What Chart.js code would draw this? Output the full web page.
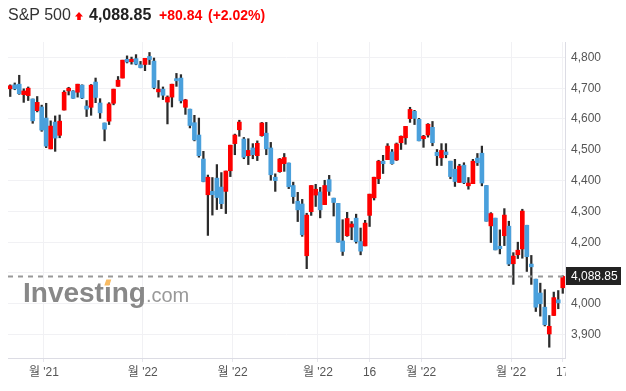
<!DOCTYPE html>
<html>
<head>
<meta charset="utf-8">
<script src="https://cdn.jsdelivr.net/npm/chart.js@4.4.0/dist/chart.umd.min.js"></script>
<style>
  html, body { margin: 0; padding: 0; background: #fff; }
  #wrap { position: relative; width: 626px; height: 391px; overflow: hidden; font-family: Arial, "Liberation Sans", "Noto Sans CJK KR", sans-serif; }
  #chart { position: absolute; left: 0; top: 0; }
  #head span { position: absolute; top: 4.5px; line-height: 20px; white-space: nowrap; }
  #name { left: 8px; font-size: 16px; color: #333; }
  #price { left: 89px; font-size: 16px; font-weight: bold; color: #222; }
  #chg { left: 159px; font-size: 14px; font-weight: bold; color: #f00; }
  #pct { left: 208px; font-size: 14px; font-weight: bold; color: #f00; }
  #arrow { position: absolute; left: 75px; top: 12px; }
</style>
</head>
<body>
<div id="wrap">
  <canvas id="chart" width="626" height="391"></canvas>
  <div id="head">
    <span id="name"></span>
    <svg id="arrow" width="8" height="8" viewBox="0 0 8 8"><polygon points="4,0 8,4.4 5.8,4.4 5.8,8 2.2,8 2.2,4.4 0,4.4" fill="#f00"/></svg>
    <span id="price"></span>
    <span id="chg"></span>
    <span id="pct"></span>
  </div>
</div>
<script>
// --- header ---
const instrument = 'S&P 500';
const lastChange = '+80.84';
const lastChangePct = '(+2.02%)';

// --- trading days ---
const dates = [
  '2021-11-18','2021-11-19','2021-11-22','2021-11-23','2021-11-24','2021-11-26','2021-11-29','2021-11-30',
  '2021-12-01','2021-12-02','2021-12-03','2021-12-06','2021-12-07','2021-12-08','2021-12-09','2021-12-10',
  '2021-12-13','2021-12-14','2021-12-15','2021-12-16','2021-12-17','2021-12-20','2021-12-21','2021-12-22',
  '2021-12-23','2021-12-27','2021-12-28','2021-12-29','2021-12-30','2021-12-31',
  '2022-01-03','2022-01-04','2022-01-05','2022-01-06','2022-01-07','2022-01-10','2022-01-11','2022-01-12',
  '2022-01-13','2022-01-14','2022-01-18','2022-01-19','2022-01-20','2022-01-21','2022-01-24','2022-01-25',
  '2022-01-26','2022-01-27','2022-01-28','2022-01-31',
  '2022-02-01','2022-02-02','2022-02-03','2022-02-04','2022-02-07','2022-02-08','2022-02-09','2022-02-10',
  '2022-02-11','2022-02-14','2022-02-15','2022-02-16','2022-02-17','2022-02-18','2022-02-22','2022-02-23',
  '2022-02-24','2022-02-25','2022-02-28',
  '2022-03-01','2022-03-02','2022-03-03','2022-03-04','2022-03-07','2022-03-08','2022-03-09','2022-03-10',
  '2022-03-11','2022-03-14','2022-03-15','2022-03-16','2022-03-17','2022-03-18','2022-03-21','2022-03-22',
  '2022-03-23','2022-03-24','2022-03-25','2022-03-28','2022-03-29','2022-03-30','2022-03-31',
  '2022-04-01','2022-04-04','2022-04-05','2022-04-06','2022-04-07','2022-04-08','2022-04-11','2022-04-12',
  '2022-04-13','2022-04-14','2022-04-18','2022-04-19','2022-04-20','2022-04-21','2022-04-22','2022-04-25',
  '2022-04-26','2022-04-27','2022-04-28','2022-04-29',
  '2022-05-02','2022-05-03','2022-05-04','2022-05-05','2022-05-06','2022-05-09','2022-05-10','2022-05-11',
  '2022-05-12','2022-05-13','2022-05-16','2022-05-17'
];

// --- OHLC ---
const open = [
  4698,4711,4713,4679,4676,4665,4627,4639,
  4603,4503,4590,4547,4629,4691,4691,4687,
  4710,4642,4638,4720,4652,4587,4593,4651,
  4706,4733,4794,4786,4796,4776,
  4777,4803,4788,4688,4697,4655,4671,4731,
  4733,4638,4632,4588,4548,4470,4354,4365,
  4408,4379,4365,4432,
  4520,4565,4535,4481,4506,4481,4546,4554,
  4506,4411,4429,4455,4457,4384,4333,4324,
  4156,4299,4353,
  4363,4322,4403,4343,4326,4204,4221,4249,
  4278,4202,4188,4287,4344,4406,4463,4468,
  4493,4467,4523,4539,4601,4625,4599,
  4536,4548,4573,4492,4474,4493,4463,4437,
  4394,4450,4383,4390,4473,4489,4384,4253,
  4278,4187,4221,4252,
  4130,4159,4178,4255,4129,4080,4035,3989,
  3902,3962,4013,4052
];
const high = [
  4711,4717,4742,4698,4704,4665,4673,4645,
  4651,4594,4610,4613,4692,4703,4692,4713,
  4711,4660,4712,4733,4666,4587,4653,4697,
  4738,4791,4805,4801,4809,4787,
  4797,4816,4798,4725,4704,4675,4713,4748,
  4744,4664,4632,4612,4603,4495,4418,4410,
  4452,4426,4431,4515,
  4551,4596,4540,4536,4520,4529,4589,4589,
  4524,4422,4472,4488,4457,4395,4362,4339,
  4294,4384,4388,
  4378,4401,4417,4343,4326,4273,4297,4267,
  4291,4246,4271,4356,4411,4466,4482,4520,
  4501,4522,4545,4576,4638,4628,4602,
  4547,4585,4592,4501,4520,4520,4463,4469,
  4453,4458,4410,4469,4488,4512,4384,4296,
  4278,4240,4309,4268,
  4166,4200,4307,4255,4157,4080,4067,4046,
  3962,4038,4043,4091
];
const low = [
  4673,4695,4680,4654,4660,4586,4623,4560,
  4507,4503,4495,4539,4629,4678,4667,4671,
  4666,4608,4612,4653,4602,4529,4582,4646,
  4706,4733,4782,4778,4776,4766,
  4757,4777,4698,4671,4663,4584,4639,4706,
  4652,4615,4571,4529,4476,4396,4222,4288,
  4306,4309,4293,4413,
  4484,4544,4471,4452,4471,4465,4544,4484,
  4401,4365,4427,4430,4374,4326,4267,4219,
  4114,4287,4316,
  4279,4322,4352,4285,4200,4157,4219,4208,
  4197,4159,4188,4251,4337,4390,4423,4468,
  4453,4465,4501,4518,4589,4582,4529,
  4508,4541,4513,4449,4449,4474,4406,4381,
  4394,4390,4372,4390,4449,4383,4268,4199,
  4175,4162,4189,4124,
  4063,4147,4148,4105,4063,3975,3960,3928,
  3859,3962,3984,4034
];
const close = [
  4708,4698,4682,4691,4700,4594,4654,4564,
  4512,4577,4538,4593,4687,4700,4667,4713,
  4668,4632,4710,4670,4620,4567,4649,4697,
  4726,4791,4785,4794,4778,4767,
  4797,4793,4702,4697,4677,4671,4713,4724,
  4659,4662,4579,4532,4481,4397,4411,4354,
  4345,4325,4431,4515,
  4548,4590,4476,4498,4484,4521,4587,4503,
  4419,4400,4470,4475,4380,4348,4305,4224,
  4288,4384,4372,
  4305,4384,4365,4329,4200,4170,4277,4259,
  4202,4171,4262,4356,4411,4463,4455,4512,
  4455,4519,4544,4576,4631,4602,4529,
  4544,4583,4523,4481,4498,4484,4413,4397,
  4447,4393,4392,4463,4458,4392,4268,4293,
  4175,4179,4288,4129,
  4155,4174,4301,4153,4120,3989,4000,3932,
  3927,4020,4003,4088.85
];

// --- axes ---
const yTicks = [3900, 4000, 4100, 4200, 4300, 4400, 4500, 4600, 4700, 4800];
const xTickDates = ['2021-12-01','2022-01-03','2022-02-01','2022-03-01','2022-03-16','2022-04-01','2022-05-02','2022-05-17'];
const xTickLabels = ["월 '21", "월 '22", "월 '22", "월 '22", '16', "월 '22", "월 '22", '17'];

const UP = '#fe0000';
const DOWN = '#4aa0dc';
const FONT = 'Arial, "Liberation Sans", "Noto Sans CJK KR", sans-serif';
const last = close.length - 1;

document.getElementById('name').textContent = instrument;
document.getElementById('price').textContent = close[last].toLocaleString('en-US', { minimumFractionDigits: 2 });
document.getElementById('chg').textContent = lastChange;
document.getElementById('pct').textContent = lastChangePct;

// watermark, dashed last-price line, price box
const overlay = {
    id: 'overlay',
    beforeDatasetsDraw(chart) {
        const c = chart.ctx;
        c.save();
        c.textBaseline = 'alphabetic';
        c.font = 'bold 28px ' + FONT;
        c.fillStyle = '#888';
        const x0 = 23, base = 302;
        c.fillText('Investing', x0, base);
        const wInv = c.measureText('Invest').width;
        const wAll = c.measureText('Investing').width;
        const iw = c.measureText('i').width;
        // orange dot on the i
        const dx = x0 + wInv + iw / 2;
        c.fillStyle = '#f8bb63';
        c.beginPath();
        c.moveTo(dx - 3.5, base - 16.5);
        c.lineTo(dx - 1.5, base - 22.5);
        c.lineTo(dx + 3.5, base - 22.5);
        c.lineTo(dx + 1.5, base - 16.5);
        c.closePath();
        c.fill();
        c.font = '20px ' + FONT;
        c.fillStyle = '#999';
        c.fillText('.com', x0 + wAll, base);
        c.restore();
    },
    afterDatasetsDraw(chart) {
        const c = chart.ctx, a = chart.chartArea;
        const y = chart.scales.y.getPixelForValue(close[last]);
        c.save();
        c.strokeStyle = '#999';
        c.lineWidth = 2;
        c.setLineDash([5, 5]);
        c.beginPath();
        c.moveTo(a.left, y);
        c.lineTo(a.right, y);
        c.stroke();
        c.restore();
    },
    afterDraw(chart) {
        const c = chart.ctx, a = chart.chartArea;
        const y = chart.scales.y.getPixelForValue(close[last]);
        c.save();
        // clip x labels past the price axis
        c.fillStyle = '#fff';
        c.fillRect(a.right + 0.5, a.bottom + 1, 70, 40);
        c.fillStyle = '#222';
        c.fillRect(a.right + 1, Math.round(y) - 9, 55, 18);
        c.fillStyle = '#fff';
        c.font = '12px ' + FONT;
        c.textBaseline = 'middle';
        c.fillText(close[last].toLocaleString('en-US', { minimumFractionDigits: 2 }), a.right + 6, Math.round(y) + 0.5);
        c.restore();
    }
};

new Chart(document.getElementById('chart'), {
    type: 'bar',
    data: {
        datasets: [
            {
                label: 'wick',
                data: dates.map((d, i) => ({ x: i, y: [low[i], high[i]] })),
                backgroundColor: '#2b2b2b',
                barThickness: 1.6,
                grouped: false,
                order: 2
            },
            {
                label: 'body',
                data: dates.map((d, i) => ({ x: i, y: [open[i], close[i]] })),
                backgroundColor: ctx => close[ctx.dataIndex] >= open[ctx.dataIndex] ? UP : DOWN,
                barThickness: 4,
                grouped: false,
                order: 1
            }
        ]
    },
    options: {
        responsive: false,
        animation: false,
        devicePixelRatio: 1,
        layout: { padding: { top: 42, left: 8, right: 0, bottom: 0 } },
        plugins: { legend: { display: false }, tooltip: { enabled: false } },
        scales: {
            x: {
                type: 'linear',
                offset: false,
                min: -0.5,
                max: dates.length - 0.5,
                afterBuildTicks: axis => {
                    axis.ticks = xTickDates.map((d, k) => ({
                        value: dates.indexOf(d) - (xTickLabels[k].includes("'") ? 0.5 : 0)
                    }));
                },
                afterFit: s => { s.height = 33; },
                grid: { offset: false, color: '#f1f1f4', tickColor: '#e6e6ec', tickLength: 4, drawTicks: true },
                border: { color: '#dcdce4' },
                ticks: {
                    autoSkip: false,
                    maxRotation: 0,
                    padding: 3,
                    color: '#555',
                    font: { size: 12, family: FONT },
                    callback: (v, k) => xTickLabels[k]
                }
            },
            y: {
                position: 'right',
                min: 3824,
                max: 4850,
                afterBuildTicks: axis => { axis.ticks = yTicks.map(v => ({ value: v })); },
                afterFit: s => { s.width = 61; },
                grid: { color: '#f1f1f4', drawTicks: false },
                border: { color: '#dcdce4' },
                ticks: {
                    padding: 6,
                    color: '#555',
                    font: { size: 12, family: FONT },
                    callback: v => v.toLocaleString('en-US')
                }
            }
        }
    },
    plugins: [overlay]
});
</script>
</body>
</html>
